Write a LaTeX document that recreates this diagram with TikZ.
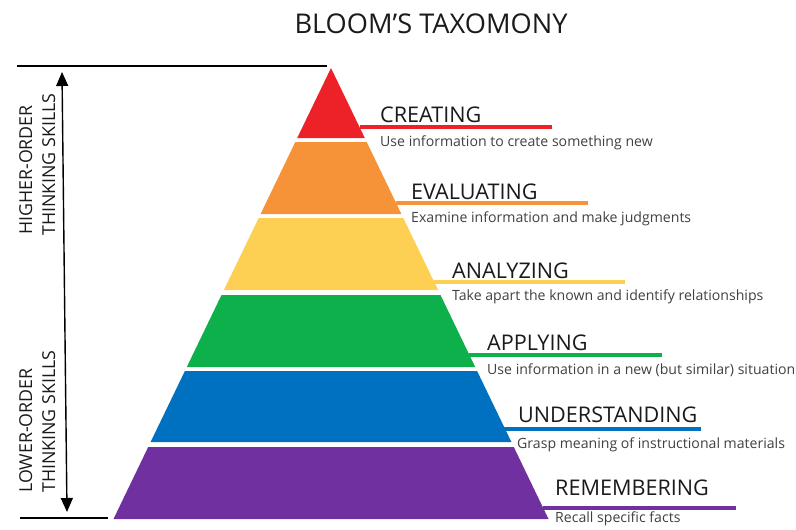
\documentclass[tikz,border=0pt]{standalone}
\usepackage{fontspec}
\setmainfont{Open Sans}
\usetikzlibrary{arrows.meta}
\definecolor{cred}{RGB}{237,34,40}
\definecolor{corange}{RGB}{246,146,56}
\definecolor{cyellow}{RGB}{253,208,84}
\definecolor{cgreen}{RGB}{14,176,76}
\definecolor{cblue}{RGB}{0,112,192}
\definecolor{cpurple}{RGB}{112,48,160}
\definecolor{ctext}{RGB}{26,26,26}
\definecolor{cdesc}{RGB}{64,64,64}
\begin{document}
\begin{tikzpicture}[x=1pt,y=-1pt,
  lvl/.style={anchor=base west,inner sep=0pt,text=ctext,font=\fontsize{21.6}{24}\selectfont},
  desc/.style={anchor=base west,inner sep=0pt,text=cdesc,font=\fontsize{14.1}{16}\selectfont},
  side/.style={anchor=base west,inner sep=0pt,rotate=90,text=ctext,font=\fontsize{17.8}{20}\selectfont},
  tick/.style={line width=4pt},
  rule/.style={line width=1.6pt,black}]
\useasboundingbox (0,0) rectangle (796,530);
% title
\node[anchor=base,inner sep=0pt,text=ctext,font=\fontsize{27.2}{30}\selectfont] (title) at (431,33) {BLOOM’S TAXOMONY};
% pyramid bands
\fill[cred]    (331,68) -- (364.8,138) -- (297.2,138) -- cycle;
\fill[corange] (295.3,142) -- (366.7,142) -- (401.4,214) -- (260.6,214) -- cycle;
\fill[cyellow] (258.7,218) -- (403.3,218) -- (438.1,290) -- (223.9,290) -- cycle;
\fill[cgreen]  (221.5,295) -- (440.5,295) -- (475.2,367) -- (186.8,367) -- cycle;
\fill[cblue]   (184.9,371) -- (477.1,371) -- (511.4,442) -- (150.6,442) -- cycle;
\fill[cpurple] (148.2,447) -- (513.8,447) -- (548.5,519) -- (113.5,519) -- cycle;
% tick lines
\coordinate (c1) at (359.5,127); \coordinate (c2) at (552,127);
\coordinate (e1) at (396,203);   \coordinate (e2) at (588,203);
\coordinate (a1) at (434,282);   \coordinate (a2) at (625,282);
\coordinate (p1) at (469,355);   \coordinate (p2) at (662,355);
\coordinate (u1) at (504,429);   \coordinate (u2) at (701,429);
\coordinate (r1) at (543,508);   \coordinate (r2) at (736,508);
\draw[tick,cred]    (c1) -- (c2);
\draw[tick,corange] (e1) -- (e2);
\draw[tick,cyellow] (a1) -- (a2);
\draw[tick,cgreen]  (p1) -- (p2);
\draw[tick,cblue]   (u1) -- (u2);
\draw[tick,cpurple] (r1) -- (r2);
% labels
\node[lvl] (creating) at (380,122) {CREATING};
\node[desc] (dcreating) at (380,146) {Use information to create something new};
\node[lvl] (evaluating) at (411,199) {EVALUATING};
\node[desc] (devaluating) at (411,222) {Examine information and make judgments};
\node[lvl] (analyzing) at (452,278) {ANALYZING};
\node[desc] (danalyzing) at (452,300) {Take apart the known and identify relationships};
\node[lvl] (applying) at (487,350) {APPLYING};
\node[desc] (dapplying) at (487,374) {Use information in a new (but similar) situation};
\node[lvl] (understanding) at (518,422) {UNDERSTANDING};
\node[desc] (dunderstanding) at (517,448) {Grasp meaning of instructional materials};
\node[lvl] (remembering) at (555,495) {REMEMBERING};
\node[desc] (dremembering) at (555,522) {Recall specific facts};
% left rules and arrow
\coordinate (tl) at (17,66); \coordinate (tr) at (327,66);
\coordinate (bl) at (20,518); \coordinate (br) at (108,518);
\draw[rule] (tl) -- (tr);
\draw[rule] (bl) -- (br);
\coordinate (atop) at (62,72); \coordinate (abot) at (67,512);
\draw[line width=1.4pt,{Triangle[length=14pt,width=12pt]}-{Triangle[length=14pt,width=12pt]}] (atop) -- (abot);
\node[side] (ho1) at (32,235) {HIGHER-ORDER};
\node[side] (ho2) at (55,236) {THINKING SKILLS};
\node[side] (lo1) at (32,493) {LOWER-ORDER};
\node[side] (lo2) at (55,493) {THINKING SKILLS};
\end{tikzpicture}
\end{document}
